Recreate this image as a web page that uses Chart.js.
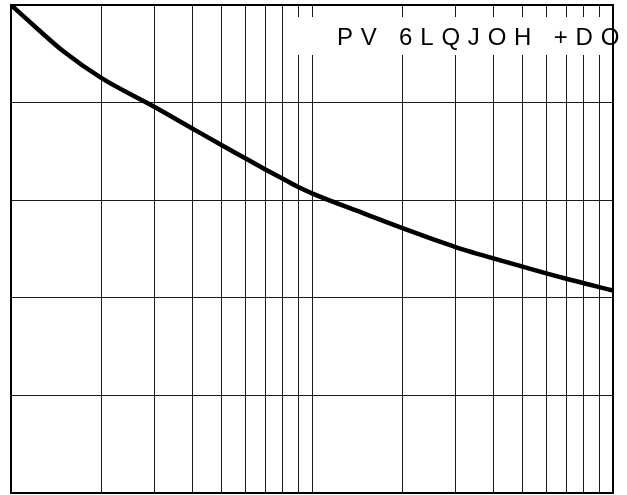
<!DOCTYPE html>
<html>
<head>
<meta charset="utf-8">
<script src="https://cdn.jsdelivr.net/npm/chart.js@4/dist/chart.umd.min.js"></script>
<style>
html,body{margin:0;padding:0;background:#fff;}
#wrap{width:627px;height:495px;}
</style>
</head>
<body>
<div id="wrap"><canvas id="c" width="627" height="495"></canvas></div>
<script>
const xValues = [1, 1.2, 1.5, 2, 3, 4, 5, 6, 7, 8, 9, 10, 15, 20, 30, 50, 70, 100];
const yValues = [5.0, 4.78, 4.52, 4.25, 3.955, 3.735, 3.565, 3.43, 3.315, 3.22, 3.135, 3.07, 2.86, 2.713, 2.519, 2.32, 2.195, 2.074];
const xGridTicks = [1, 2, 3, 4, 5, 6, 7, 8, 9, 10, 20, 30, 40, 50, 60, 70, 80, 90, 100];
const yGridTicks = [0, 1, 2, 3, 4, 5];
const labelText = "PV 6LQJOH +DO";

const overlay = {
  id: 'overlay',
  beforeDatasetsDraw(chart) {
    const ctx = chart.ctx;
    ctx.save();
    ctx.fillStyle = '#fff';
    ctx.fillRect(290, 17, 322, 38);
    ctx.fillStyle = '#000';
    ctx.font = '24px "Liberation Sans", Arial, sans-serif';
    ctx.textBaseline = 'alphabetic';
    let x = 337;
    for (const ch of labelText) {
      ctx.fillText(ch, x, 45);
      x += ctx.measureText(ch).width + 7.8;
    }
    ctx.restore();
  },
  afterDraw(chart) {
    const a = chart.chartArea;
    const ctx = chart.ctx;
    ctx.save();
    ctx.strokeStyle = '#000';
    ctx.lineWidth = 2;
    ctx.strokeRect(a.left, a.top, a.right - a.left, a.bottom - a.top);
    ctx.restore();
  }
};

new Chart(document.getElementById('c'), {
  type: 'line',
  data: {
    datasets: [{
      data: xValues.map((x, i) => ({x: x, y: yValues[i]})),
      borderColor: '#000',
      borderWidth: 4.5,
      pointRadius: 0,
      fill: false,
      cubicInterpolationMode: 'monotone'
    }]
  },
  options: {
    responsive: false,
    animation: false,
    devicePixelRatio: 1,
    layout: {padding: {left: 11, right: 14, top: 5, bottom: 2}},
    plugins: {legend: {display: false}, tooltip: {enabled: false}},
    scales: {
      x: {
        type: 'logarithmic',
        min: 1, max: 100,
        afterBuildTicks(scale) { scale.ticks = xGridTicks.map(v => ({value: v})); },
        ticks: {display: false},
        grid: {color: '#1a1a1a', lineWidth: 1, drawTicks: false},
        border: {display: false}
      },
      y: {
        type: 'linear',
        min: 0, max: 5,
        afterBuildTicks(scale) { scale.ticks = yGridTicks.map(v => ({value: v})); },
        ticks: {display: false},
        grid: {color: '#1a1a1a', lineWidth: 1, drawTicks: false},
        border: {display: false}
      }
    }
  },
  plugins: [overlay]
});
</script>
</body>
</html>
